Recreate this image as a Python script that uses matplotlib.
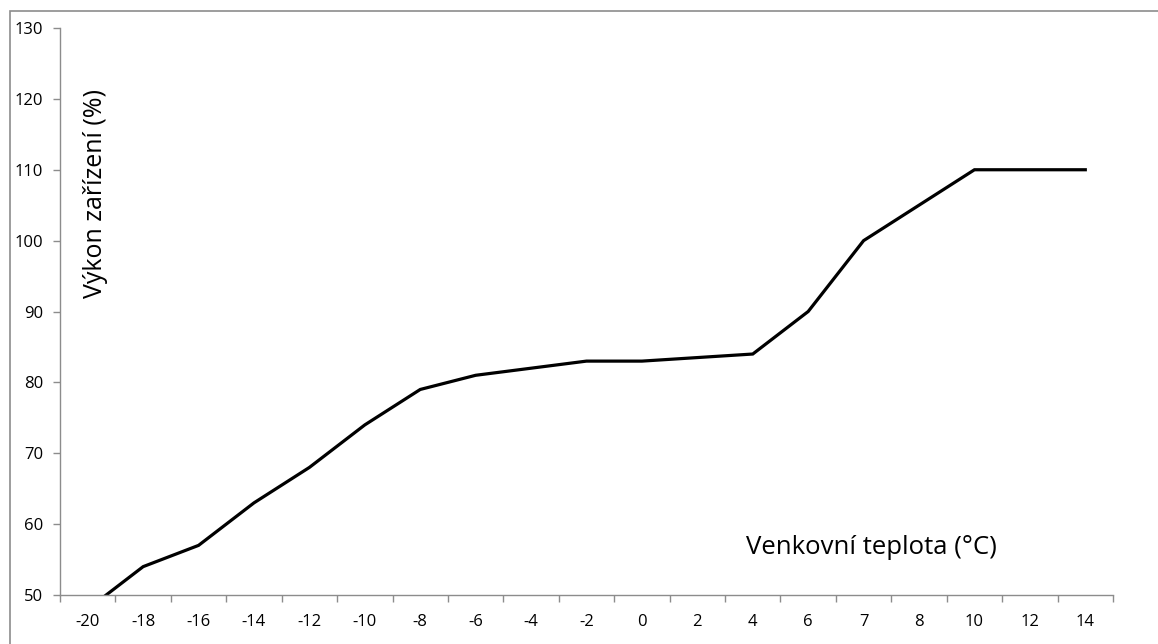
import matplotlib
matplotlib.use("Agg")
import matplotlib.pyplot as plt
from matplotlib.patches import Rectangle

categories = ["-20", "-18", "-16", "-14", "-12", "-10", "-8", "-6", "-4", "-2",
              "0", "2", "4", "6", "7", "8", "10", "12", "14"]
values = [48, 54, 57, 63, 68, 74, 79, 81, 82, 83, 83, 83.5, 84, 90, 100, 105, 110, 110, 110]
yticks = [50, 60, 70, 80, 90, 100, 110, 120, 130]

plt.rcParams['font.family'] = ['Open Sans', 'DejaVu Sans']

W, H = 1158, 644
fig = plt.figure(figsize=(W / 100, H / 100), dpi=100)
fig.patch.set_facecolor('white')

# outer chart border
fig.patches.append(Rectangle((10 / W, -0.1), 1.2, 1 - 11 / H + 0.1, transform=fig.transFigure,
                             fill=False, edgecolor='#8c8c8c', linewidth=1.2))

ax = fig.add_axes([60 / W, 1 - 595 / H, (1113 - 60) / W, (595 - 28) / H])
x = list(range(len(categories)))
ax.plot(x, values, color='black', linewidth=2.3, solid_joinstyle='miter', clip_on=True)

ax.set_xlim(-0.5, len(categories) - 0.5)
ax.set_ylim(50, 130)
ax.set_yticks(yticks)
ax.set_yticklabels([str(v) for v in yticks])
ax.set_xticks(x)
ax.set_xticklabels(categories)
ax.set_xticks([i - 0.5 for i in range(len(categories) + 1)], minor=True)
ax.tick_params(axis='x', which='major', length=0, pad=14, labelsize=12)
ax.tick_params(axis='x', which='minor', length=5, color='#8c8c8c', width=1)
ax.tick_params(axis='y', which='major', length=5, color='#8c8c8c', width=1, labelsize=12, pad=7)

for s in ['top', 'right']:
    ax.spines[s].set_visible(False)
for s in ['left', 'bottom']:
    ax.spines[s].set_color('#8c8c8c')
    ax.spines[s].set_linewidth(1)

fig.text(96 / W, 1 - 193 / H, "Výkon zařízení (%)", rotation=90, ha='center', va='center', fontsize=18)
fig.text(871 / W, 1 - 548 / H, "Venkovní teplota (°C)", ha='center', va='center', fontsize=18.5)

fig.savefig("out.png", dpi=100, facecolor='white')
